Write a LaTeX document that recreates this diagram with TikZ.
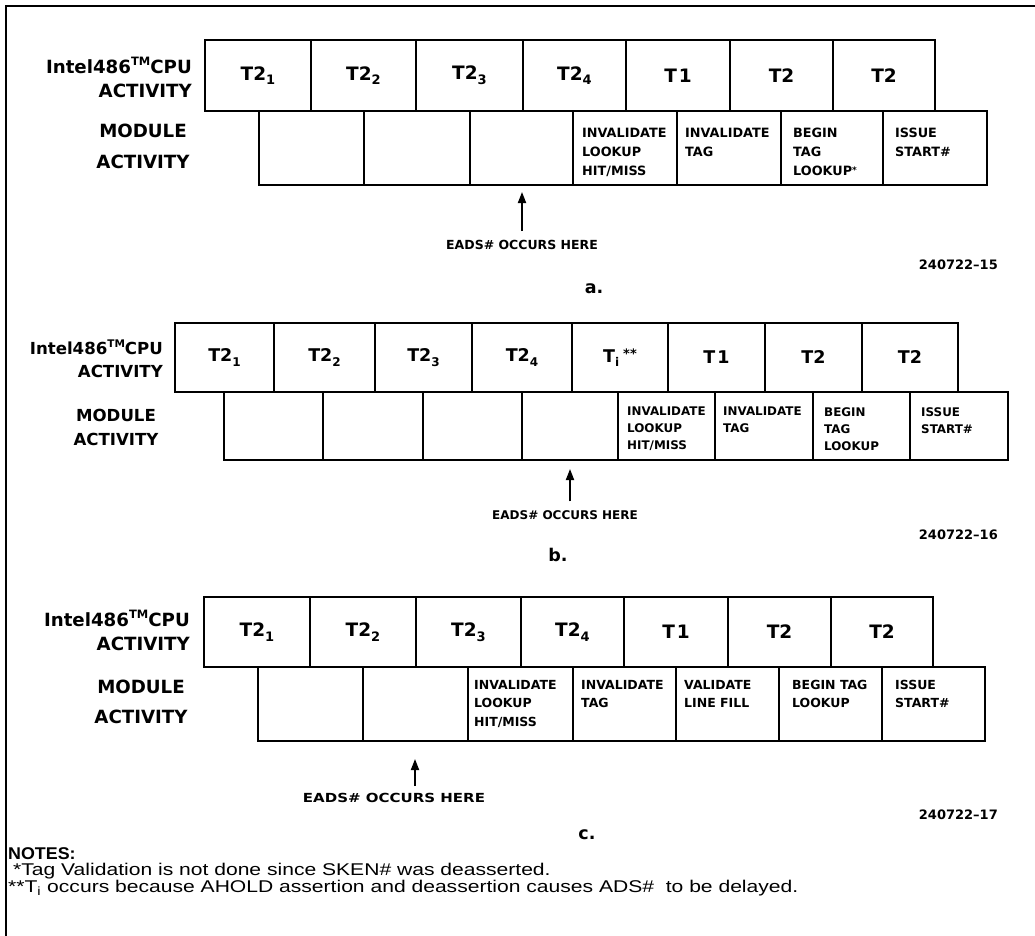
\documentclass[tikz,border=0pt]{standalone}
\usepackage{fontspec}
\setmainfont{DejaVu Sans}
\newfontfamily\notefont{Liberation Sans}
\usetikzlibrary{arrows.meta}
\newcommand\sbs[2][13]{\raisebox{-0.45ex}{\fontsize{#1}{#1}\selectfont #2}}
\newcommand\tmark[1][11.5]{\raisebox{0.8ex}{\fontsize{#1}{#1}\selectfont TM}}
% fonts per panel
\newcommand\tfa{\fontsize{18.5}{20}\selectfont\bfseries}
\newcommand\tfb{\fontsize{17.5}{19}\selectfont\bfseries}
\newcommand\cfa{\fontsize{12.8}{19}\selectfont\bfseries}
\newcommand\cfb{\fontsize{11.9}{17}\selectfont\bfseries}
\newcommand\cfc{\fontsize{12.5}{18.5}\selectfont\bfseries}
% box between x-left, x-right, y-top, y-bottom
\newcommand\rbox[7]{\node[box, minimum width={(#3-#2)*1pt}, minimum height={(#5-#4)*1pt}, font=#7] (#1) at ({(#2+#3)/2},{(#4+#5)/2}) {#6};}
% text in a module cell
\newcommand\ctext[5]{\node[ctxt, font=#4, anchor=north west] (#1-txt) at ([xshift=#2pt,yshift=-#3pt]#1.north west) {#5};}
\begin{document}
\begin{tikzpicture}[x=1pt,y=-1pt,
  box/.style={draw, line width=2.6pt, inner sep=0pt, outer sep=0pt},
  ctxt/.style={inner sep=0pt, align=left},
  lbl/.style={inner sep=0pt},
  arr/.style={line width=1.8pt, -{Triangle[length=11pt,width=8pt]}},
  fig/.style={inner sep=0pt, font=\fontsize{13}{15}\selectfont\bfseries, anchor=east},
  letter/.style={inner sep=0pt, font=\fontsize{17.5}{20}\selectfont\bfseries},
  notes/.style={inner sep=0pt, anchor=west, font=\notefont\fontsize{17}{18}\selectfont}]
\fill[white] (0,0) rectangle (1035,936);
\useasboundingbox (0,0) rectangle (1035,936);
% frame
\coordinate (fr-tr) at (1035,6);
\coordinate (fr-tl) at (6,6);
\coordinate (fr-bl) at (6,936);
\draw[line width=2pt] (fr-tr) -- (fr-tl) -- (fr-bl);

% ================= Panel a =================
\node[lbl, anchor=east, align=right, font=\fontsize{18.2}{24}\selectfont\bfseries] (a-cpu) at (192,77) {Intel486\tmark CPU\\ACTIVITY};
\node[lbl, align=center, font=\fontsize{18.2}{31}\selectfont\bfseries] (a-mod) at (143,146) {MODULE\\ACTIVITY};
\rbox{a-t1}{205}{311}{40}{111}{T2\sbs{1}}{\tfa}
\rbox{a-t2}{311}{416}{40}{111}{T2\sbs{2}}{\tfa}
\rbox{a-t3}{416}{523}{40}{111}{T2\sbs{3}}{\tfa}
\rbox{a-t4}{523}{626}{40}{111}{T2\sbs{4}}{\tfa}
\rbox{a-t5}{626}{730}{40}{111}{T\kern2pt1}{\tfa}
\rbox{a-t6}{730}{833}{40}{111}{T2}{\tfa}
\rbox{a-t7}{833}{935}{40}{111}{T2}{\tfa}
\rbox{a-b1}{259}{364}{111}{185}{}{\tfa}
\rbox{a-b2}{364}{470}{111}{185}{}{\tfa}
\rbox{a-b3}{470}{573}{111}{185}{}{\tfa}
\rbox{a-b4}{573}{677}{111}{185}{}{\tfa}
\rbox{a-b5}{677}{781}{111}{185}{}{\tfa}
\rbox{a-b6}{781}{883}{111}{185}{}{\tfa}
\rbox{a-b7}{883}{987}{111}{185}{}{\tfa}
\ctext{a-b4}{9}{17}{\cfa}{INVALIDATE\\LOOKUP\\HIT/MISS}
\ctext{a-b5}{8}{17}{\cfa}{INVALIDATE\\TAG}
\ctext{a-b6}{12}{17}{\cfa}{BEGIN\\TAG\\LOOKUP\raisebox{2pt}{\fontsize{9}{9}\selectfont*}}
\ctext{a-b7}{12}{17}{\cfa}{ISSUE\\START\#}
\node[lbl, font=\fontsize{12.5}{15}\selectfont\bfseries] (a-eads) at (522,245) {EADS\# OCCURS HERE};
\coordinate (a-tip) at (522,192);
\draw[arr] ([yshift=9pt]a-eads.north) -- (a-tip);
\node[fig] (a-fig) at (998,265) {240722--15};
\node[letter] (a-let) at (594,289) {a.};

% ================= Panel b =================
\node[lbl, anchor=east, align=right, font=\fontsize{16.6}{23}\selectfont\bfseries] (b-cpu) at (163,359) {Intel486\tmark[10.5]CPU\\ACTIVITY};
\node[lbl, align=center, font=\fontsize{16.6}{24}\selectfont\bfseries] (b-mod) at (116,427) {MODULE\\ACTIVITY};
\rbox{b-t1}{175}{274}{323}{392}{T2\sbs[12]{1}}{\tfb}
\rbox{b-t2}{274}{375}{323}{392}{T2\sbs[12]{2}}{\tfb}
\rbox{b-t3}{375}{472}{323}{392}{T2\sbs[12]{3}}{\tfb}
\rbox{b-t4}{472}{572}{323}{392}{T2\sbs[12]{4}}{\tfb}
\rbox{b-t5}{572}{668}{323}{392}{T\sbs[12]{i}\hspace{4pt}\raisebox{4pt}{\fontsize{13}{13}\selectfont **}}{\tfb}
\rbox{b-t6}{668}{765}{323}{392}{T\kern2pt1}{\tfb}
\rbox{b-t7}{765}{862}{323}{392}{T2}{\tfb}
\rbox{b-t8}{862}{958}{323}{392}{T2}{\tfb}
\rbox{b-b1}{224}{323}{392}{460}{}{\tfb}
\rbox{b-b2}{323}{423}{392}{460}{}{\tfb}
\rbox{b-b3}{423}{522}{392}{460}{}{\tfb}
\rbox{b-b4}{522}{618}{392}{460}{}{\tfb}
\rbox{b-b5}{618}{715}{392}{460}{}{\tfb}
\rbox{b-b6}{715}{813}{392}{460}{}{\tfb}
\rbox{b-b7}{813}{910}{392}{460}{}{\tfb}
\rbox{b-b8}{910}{1008}{392}{460}{}{\tfb}
\ctext{b-b5}{9}{15}{\cfb}{INVALIDATE\\LOOKUP\\HIT/MISS}
\ctext{b-b6}{8}{15}{\cfb}{INVALIDATE\\TAG}
\ctext{b-b7}{11}{15}{\cfb}{BEGIN\\TAG\\LOOKUP}
\ctext{b-b8}{11}{15}{\cfb}{ISSUE\\START\#}
\node[lbl, font=\fontsize{12}{14}\selectfont\bfseries] (b-eads) at (565,515) {EADS\# OCCURS HERE};
\coordinate (b-tip) at (570,469);
\draw[arr] ([xshift=5pt,yshift=9pt]b-eads.north) -- (b-tip);
\node[fig] (b-fig) at (998,535) {240722--16};
\node[letter] (b-let) at (558,555) {b.};

% ================= Panel c =================
\node[lbl, anchor=east, align=right, font=\fontsize{18.2}{24}\selectfont\bfseries] (c-cpu) at (190,630) {Intel486\tmark CPU\\ACTIVITY};
\node[lbl, align=center, font=\fontsize{18.2}{30}\selectfont\bfseries] (c-mod) at (141,702) {MODULE\\ACTIVITY};
\rbox{c-t1}{204}{310}{597}{667}{T2\sbs{1}}{\tfa}
\rbox{c-t2}{310}{416}{597}{667}{T2\sbs{2}}{\tfa}
\rbox{c-t3}{416}{521}{597}{667}{T2\sbs{3}}{\tfa}
\rbox{c-t4}{521}{624}{597}{667}{T2\sbs{4}}{\tfa}
\rbox{c-t5}{624}{728}{597}{667}{T\kern2pt1}{\tfa}
\rbox{c-t6}{728}{831}{597}{667}{T2}{\tfa}
\rbox{c-t7}{831}{933}{597}{667}{T2}{\tfa}
\rbox{c-b1}{258}{363}{667}{741}{}{\tfa}
\rbox{c-b2}{363}{468}{667}{741}{}{\tfa}
\rbox{c-b3}{468}{573}{667}{741}{}{\tfa}
\rbox{c-b4}{573}{676}{667}{741}{}{\tfa}
\rbox{c-b5}{676}{779}{667}{741}{}{\tfa}
\rbox{c-b6}{779}{882}{667}{741}{}{\tfa}
\rbox{c-b7}{882}{985}{667}{741}{}{\tfa}
\ctext{c-b3}{6}{13}{\cfc}{INVALIDATE\\LOOKUP\\HIT/MISS}
\ctext{c-b4}{8}{13}{\cfc}{INVALIDATE\\TAG}
\ctext{c-b5}{8}{13}{\cfc}{VALIDATE\\LINE FILL}
\ctext{c-b6}{13}{13}{\cfc}{BEGIN TAG\\LOOKUP}
\ctext{c-b7}{13}{13}{\cfc}{ISSUE\\START\#}
\node[lbl, font=\fontsize{12.5}{15}\selectfont\bfseries] (c-eads) at (394,798) {\scalebox{1.2}[1]{EADS\# OCCURS HERE}};
\coordinate (c-tip) at (415,759);
\draw[arr] ([xshift=21pt,yshift=7pt]c-eads.north) -- (c-tip);
\node[fig] (c-fig) at (998,815) {240722--17};
\node[letter] (c-let) at (587,835) {c.};

% ================= Notes =================
\node[notes] (n-h) at (8,854) {\scalebox{1.05}[1]{\bfseries NOTES:}};
\node[notes] (n-1) at (13,871) {\scalebox{1.24}[1]{*Tag Validation is not done since SKEN\# was deasserted.}};
\node[notes] (n-2) at (8,888) {\scalebox{1.24}[1]{**T\textsubscript{i} occurs because AHOLD assertion and deassertion causes ADS\#\ \ to be delayed.}};
\end{tikzpicture}
\end{document}
